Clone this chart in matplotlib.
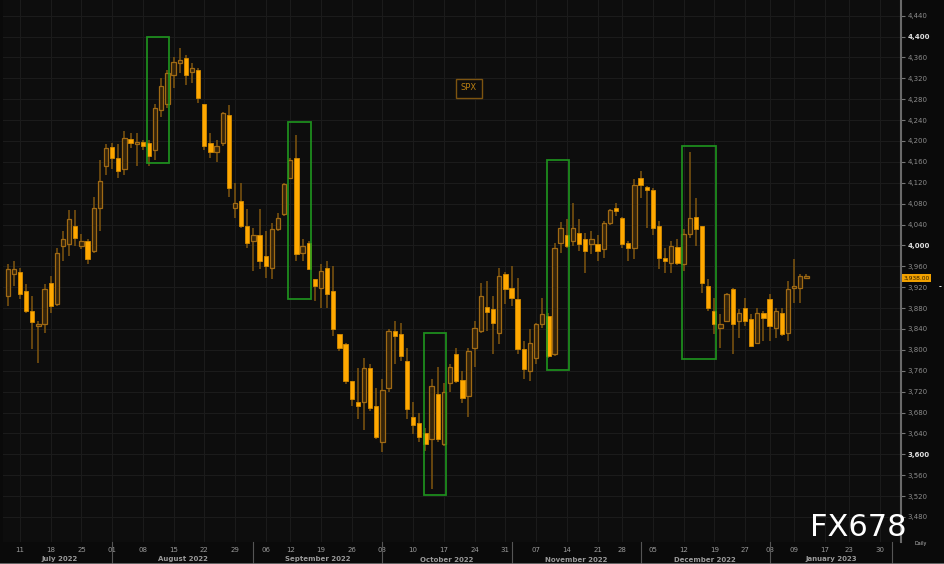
import numpy as np
import pandas as pd
import matplotlib
matplotlib.use('Agg')
import matplotlib.pyplot as plt
import matplotlib.transforms as mtrans
from matplotlib.patches import Rectangle

# SPX daily candles, 7 Jul 2022 - 11 Jan 2023
opens = [3903, 3946, 3949, 3913, 3874, 3845, 3849, 3928, 3888, 3999, 4003, 4038, 3999, 4009, 3990, 4072, 4153,
         4188, 4168, 4147, 4203, 4195, 4199, 4197, 4182, 4259, 4270, 4326, 4349, 4359, 4332, 4336, 4270, 4197,
         4178, 4197, 4249, 4072, 4086, 4038,
         4009, 4019, 3980, 3957, 4032, 4061, 4130, 4168, 3986, 4005, 3936, 3918, 3957, 3913, 3830, 3811, 3740,
         3701, 3701, 3765, 3692,
         3624, 3726, 3836, 3830, 3778, 3672, 3659, 3640, 3630, 3715, 3620, 3736, 3793, 3743, 3711, 3803, 3836,
         3882, 3878, 3832, 3945,
         3918, 3897, 3801, 3759, 3784, 3849, 3865, 3792, 4005, 4019, 4009, 4024, 4013, 4003, 4003, 3993, 4042,
         4072, 4053, 4005, 3995,
         4130, 4111, 4107, 4038, 3976, 3967, 3997, 3965, 4022, 4055, 4038, 3922, 3874, 3842, 3855, 3917, 3855,
         3880, 3859, 3813, 3870,
         3897, 3842, 3870, 3832, 3918, 3918, 3938]
highs = [3965, 3970, 3957, 3926, 3903, 3855, 3926, 3942, 3995, 4028, 4067, 4067, 4022, 4013, 4092, 4163, 4195,
         4197, 4195, 4220, 4216, 4216, 4201, 4201, 4270, 4320, 4336, 4361, 4378, 4365, 4349, 4340, 4270, 4215,
         4201, 4255, 4268, 4120, 4120, 4070,
         4034, 4070, 4028, 4042, 4063, 4120, 4168, 4211, 4013, 4009, 3936, 3965, 3970, 3961, 3830, 3813, 3740,
         3765, 3784, 3772, 3726,
         3745, 3840, 3855, 3851, 3803, 3701, 3680, 3651, 3745, 3768, 3736, 3772, 3803, 3759, 3803, 3855, 3928,
         3932, 3903, 3957, 3949,
         3961, 3938, 3817, 3840, 3851, 3899, 3870, 4005, 4044, 4051, 4082, 4051, 4024, 4028, 4019, 4047, 4070,
         4082, 4055, 4009, 4128,
         4143, 4113, 4109, 4047, 3995, 4009, 4013, 4032, 4178, 4090, 4038, 3936, 3899, 3868, 3909, 3918, 3878,
         3899, 3868, 3880, 3874,
         3907, 3880, 3880, 3932, 3974, 3945, 3945]
lows = [3884, 3922, 3897, 3870, 3801, 3774, 3832, 3870, 3884, 3970, 3980, 3999, 3994, 3965, 3986, 4028, 4134,
        4147, 4130, 4134, 4186, 4153, 4182, 4153, 4163, 4245, 4263, 4301, 4330, 4307, 4311, 4272, 4182, 4168,
        4159, 4191, 4092, 4053, 4034, 3995,
        3951, 3955, 3938, 3936, 4028, 4057, 4128, 3970, 3970, 3955, 3893, 3880, 3880, 3826, 3797, 3734, 3692,
        3668, 3647, 3682, 3630,
        3605, 3720, 3772, 3778, 3667, 3638, 3624, 3607, 3534, 3624, 3615, 3720, 3736, 3699, 3672, 3768, 3832,
        3836, 3792, 3811, 3888,
        3884, 3792, 3744, 3740, 3772, 3842, 3784, 3788, 3986, 3995, 3999, 3990, 3947, 3984, 3970, 3976, 4040,
        4057, 3995, 3970, 3974,
        4090, 4034, 4019, 3955, 3947, 3947, 3963, 3951, 4015, 3999, 3909, 3874, 3830, 3803, 3853, 3792, 3822,
        3845, 3805, 3811, 3817,
        3817, 3822, 3826, 3817, 3890, 3890, 3936]
closes = [3955, 3955, 3907, 3874, 3853, 3849, 3917, 3884, 3986, 4013, 4051, 4015, 4008, 3974, 4072, 4124, 4186,
          4168, 4143, 4205, 4197, 4197, 4191, 4172, 4263, 4305, 4330, 4351, 4355, 4326, 4340, 4282, 4191, 4178,
          4191, 4253, 4109, 4082, 4038, 4005,
          4019, 3970, 3961, 4032, 4053, 4118, 4163, 3984, 3999, 3955, 3922, 3951, 3907, 3840, 3803, 3740, 3705,
          3692, 3765, 3688, 3634,
          3724, 3836, 3826, 3788, 3686, 3657, 3634, 3620, 3730, 3630, 3720, 3768, 3740, 3707, 3797, 3842, 3903,
          3872, 3851, 3942, 3917,
          3899, 3801, 3763, 3813, 3849, 3868, 3788, 3995, 4034, 3999, 4034, 4003, 3990, 4013, 3990, 4043, 4067,
          4065, 4003, 3995, 4115,
          4115, 4107, 4034, 3976, 3970, 3999, 3967, 4022, 4053, 4032, 3928, 3880, 3849, 3849, 3907, 3849, 3870,
          3855, 3807, 3870, 3861,
          3845, 3874, 3830, 3917, 3922, 3942, 3942]

holidays = ['2022-09-05', '2022-11-24', '2022-12-26', '2023-01-02', '2023-01-16']

# highlighted periods (green boxes)
box_start = ['2022-08-09', '2022-09-12', '2022-10-12', '2022-11-09', '2022-12-12']
box_end = ['2022-08-12', '2022-09-15', '2022-10-17', '2022-11-14', '2022-12-19']
box_low = [4157, 3897, 3522, 3761, 3782]
box_high = [4399, 4236, 3832, 4163, 4190]

last_price = 3938.00

# trading-day calendar (x axis is in trading days)
cal = pd.bdate_range('2022-07-07', '2023-02-03')
cal = cal[~cal.isin(pd.to_datetime(holidays))]
pos = np.arange(len(cal))
n = len(opens)
x = pos[:n]
o = np.array(opens, float)
h = np.array(highs, float)
l = np.array(lows, float)
c = np.array(closes, float)
up = c >= o

W, H = 945, 564
fig = plt.figure(figsize=(W / 100, H / 100), dpi=100, facecolor='#0a0a0a')
ax = fig.add_axes([3 / W, 22 / H, 898 / W, 542 / H], facecolor='#0d0d0d')

# wicks
ax.vlines(x, l, h, color='#7f560f', lw=1.1, zorder=2)
# bodies
bw = 0.7
hgt = np.maximum(np.abs(c - o), 3)
bot = np.minimum(o, c)
ax.bar(x[up], hgt[up], bottom=bot[up], width=bw, facecolor='#33230a', edgecolor='#a06a14', lw=0.9, zorder=3)
ax.bar(x[~up], hgt[~up], bottom=bot[~up], width=bw, facecolor='#ffa800', edgecolor='#d68c00', lw=0.6, zorder=3)

# green boxes
idx = {d: i for i, d in enumerate(cal)}
for s, e, lo, hi in zip(box_start, box_end, box_low, box_high):
    x0 = idx[pd.Timestamp(s)] - 0.3
    x1 = idx[pd.Timestamp(e)] + 0.3
    ax.add_patch(Rectangle((x0, lo), x1 - x0, hi - lo, fill=False, edgecolor='#1f9a1f',
                           lw=1.3, alpha=0.9, zorder=4))

ax.set_xlim(-0.77, 145.4)
ax.set_ylim(3432, 4470)

# y axis on the right
yt = np.arange(3480, 4441, 40)
ax.yaxis.tick_right()
ax.set_yticks(yt)
ax.set_yticklabels([f'{v:,}' for v in yt])
ax.tick_params(axis='y', length=3, width=0.8, color='#777777', labelsize=5, labelcolor='#8c8c8c', pad=1.5)
for lab, v in zip(ax.get_yticklabels(), yt):
    if v % 400 == 0:
        lab.set_color('#e0e0e0')
        lab.set_fontweight('bold')

# x axis: first trading day of each week, month separators
weeks = cal.isocalendar().week.values
tick_pos = [i for i in range(1, len(cal)) if weeks[i] != weeks[i - 1]]
ax.set_xticks(tick_pos)
ax.set_xticklabels([cal[i].strftime('%d') for i in tick_pos])
ax.tick_params(axis='x', length=0, labelsize=5, labelcolor='#9a9a9a', pad=3.5)

ax.grid(True, color='#1b1b1b', lw=0.8, zorder=0)
ax.set_axisbelow(True)
for s in ['top', 'left', 'bottom']:
    ax.spines[s].set_visible(False)
ax.spines['right'].set_color('#6a6a6a')
ax.spines['right'].set_linewidth(1.5)

tr = mtrans.blended_transform_factory(ax.transData, ax.transAxes)
months = cal.to_period('M')
m_start = [0] + [i for i in range(1, len(cal)) if months[i] != months[i - 1]]
for i in m_start[1:]:
    ax.plot([i, i], [0, -22 / 542], transform=tr, clip_on=False, color='#555555', lw=0.8)
bounds = m_start + [len(cal)]
for a, b in zip(bounds[:-1], bounds[1:]):
    left = max(a, -0.77)
    right = min(b, 145.4)
    if right - left < 3:
        continue
    ax.text((left + right) / 2, -17.5 / 542, cal[a].strftime('%B %Y'), transform=tr,
            ha='center', va='center', fontsize=5, color='#9a9a9a', fontweight='bold')

# legend box
ax.text(466 / 898, 1 - 88 / 542, 'SPX', transform=ax.transAxes, ha='center', va='center',
        fontsize=6, color='#b97f12',
        bbox=dict(boxstyle='square,pad=0.6', facecolor='#0d0d0d', edgecolor='#7d5410', lw=1.0))

# last price tag
trp = mtrans.blended_transform_factory(ax.transAxes, ax.transData)
ax.text(1.003, last_price, f'{last_price:,.2f}', transform=trp, ha='left', va='center', fontsize=4.3,
        color='#2a1a00', bbox=dict(boxstyle='square,pad=0.25', facecolor='#f0a000', edgecolor='none'),
        zorder=6, clip_on=False)

fig.text(940 / W, 1 - 287 / H, '-', color='white', fontsize=5, ha='center', va='center', fontweight='bold')
fig.text(921 / W, 1 - 543 / H, 'Daily', color='#bbbbbb', fontsize=3.5, ha='center', va='center')

# watermark
fig.text(858 / W, 1 - 527 / H, 'FX678', color='white', fontsize=22, ha='center', va='center',
         family=['DejaVu Sans'])

fig.add_artist(plt.Line2D([0, 1], [0.5 / H, 0.5 / H], transform=fig.transFigure, color='#777777', lw=1.2))

fig.savefig('out.png', dpi=100, facecolor=fig.get_facecolor())
